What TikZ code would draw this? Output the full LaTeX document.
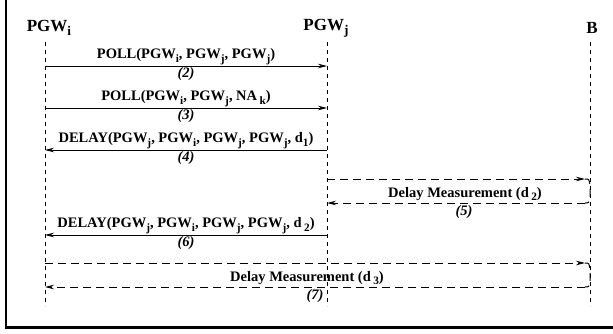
\documentclass[tikz,border=0pt]{standalone}
\usepackage{fontspec}
\setmainfont{Liberation Serif}
\usetikzlibrary{arrows.meta}
\newcommand\ix[1]{\raisebox{-0.55ex}{\scalebox{0.78}{#1}}}
\begin{document}
\begin{tikzpicture}[x=1pt,y=-1pt,>={Stealth[length=9pt,width=4.5pt]},
  head/.style={font=\fontsize{17}{20}\selectfont\bfseries},
  msg/.style={font=\fontsize{14.5}{17}\selectfont\bfseries,inner sep=1pt},
  num/.style={font=\fontsize{14.5}{17}\selectfont\bfseries\itshape,inner sep=1.5pt},
  life/.style={dash pattern=on 4pt off 4pt,line width=0.9pt},
  meas/.style={dash pattern=on 8pt off 5pt,line width=1pt}]
  \useasboundingbox (0,0) rectangle (613,334);
  \draw[line width=2.5pt] (6,0) -- (6,327.5) -- (613,327.5);
  % entities and their lifelines
  \node[head] (pi) at (49,28) {PGW\ix{i}};
  \node[head] (pj) at (326,28) {PGW\ix{j}};
  \node[head] (pb) at (592,28) {B};
  \foreach \n/\x in {i/45,j/327,b/590} {
    \coordinate (\n top) at (\x,42); \coordinate (\n bot) at (\x,306);
    \draw[life] (\n top) -- (\n bot);
  }
  \foreach \n/\y in {2/66,3/108,4/150,6/235} {
    \coordinate (i\n) at (45,\y); \coordinate (j\n) at (327,\y);
  }
  % messages
  \draw[thick,->] (i2) -- (j2) node[msg,midway,above] (m2) {POLL(PGW\ix{i}, PGW\ix{j}, PGW\ix{j})}
    node[num,midway,below] (n2) {(2)};
  \draw[thick,->] (i3) -- (j3) node[msg,midway,above] (m3) {POLL(PGW\ix{i}, PGW\ix{j}, NA\,\ix{k})}
    node[num,midway,below] (n3) {(3)};
  \draw[thick,->] (j4) -- (i4) node[msg,midway,above] (m4) {DELAY(PGW\ix{j}, PGW\ix{i}, PGW\ix{j}, PGW\ix{j}, d\ix{1})}
    node[num,midway,below] (n4) {(4)};
  \draw[thick,->] (j6) -- (i6) node[msg,midway,above] (m6) {DELAY(PGW\ix{j}, PGW\ix{i}, PGW\ix{j}, PGW\ix{j}, d\,\ix{2})}
    node[num,midway,below] (n6) {(6)};
  % delay measurements
  \coordinate (j5a) at (327,179); \coordinate (c5a) at (585,179);
  \coordinate (r5a) at (590,185); \coordinate (r5b) at (590,197);
  \coordinate (c5b) at (585,203); \coordinate (j5b) at (327,203);
  \draw[meas,->] (j5a) -- (c5a);
  \draw[meas] (c5a) .. controls (589,179) .. (r5a) -- (r5b) .. controls (589,203) .. (c5b);
  \draw[meas,->] (c5b) -- (j5b);
  \node[msg,above] (m5) at (465,202) {Delay Measurement (d\,\ix{2})};
  \node[num,below] (n5) at (464,204) {(5)};
  \coordinate (i7a) at (45,263); \coordinate (c7a) at (585,263);
  \coordinate (r7a) at (590,269); \coordinate (r7b) at (590,281);
  \coordinate (c7b) at (585,287); \coordinate (i7b) at (45,287);
  \draw[meas,->] (i7a) -- (c7a);
  \draw[meas] (c7a) .. controls (589,263) .. (r7a) -- (r7b) .. controls (589,287) .. (c7b);
  \draw[meas,->] (c7b) -- (i7b);
  \node[msg,above] (m7) at (307,286) {Delay Measurement (d\,\ix{3})};
  \node[num,below] (n7) at (315,288) {(7)};
\end{tikzpicture}
\end{document}
